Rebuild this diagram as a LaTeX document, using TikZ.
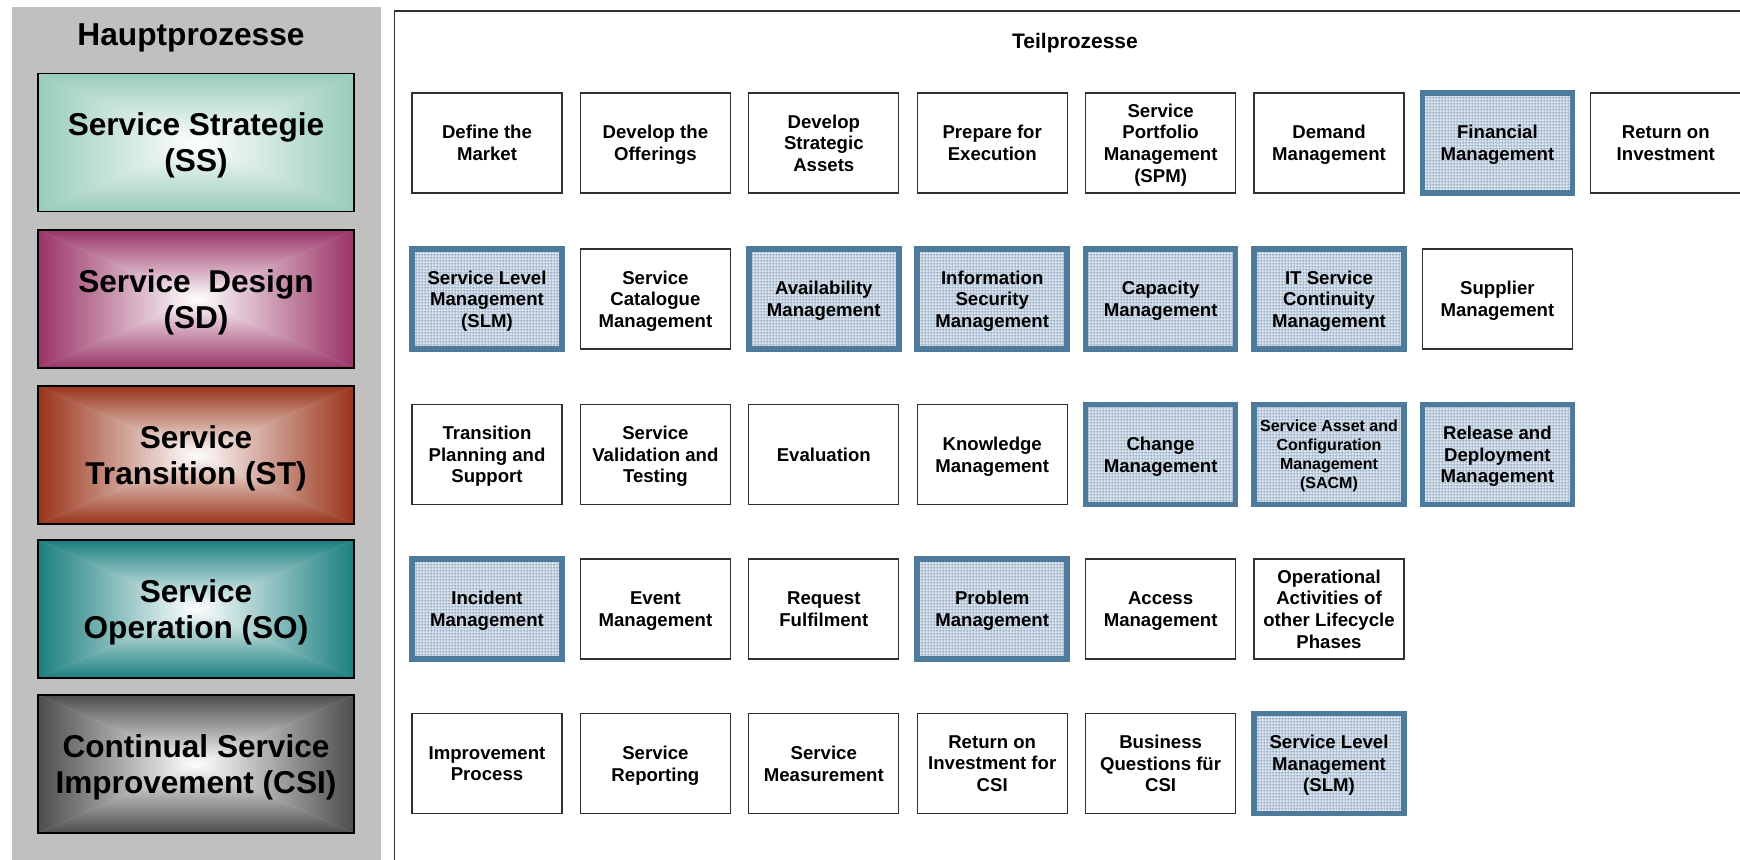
\documentclass[tikz,border=0pt]{standalone}
\usepackage{fontspec}
\setmainfont{Liberation Sans}
\usetikzlibrary{patterns.meta}
\definecolor{panelgray}{HTML}{C0C0C0}
\definecolor{boxline}{HTML}{303030}
\definecolor{hlborder}{HTML}{4E7A9B}
\definecolor{hlfill}{HTML}{DFE7F0}
\definecolor{hllines}{HTML}{9AB0C6}
\definecolor{ssc}{HTML}{99CCBB}
\definecolor{sdc}{HTML}{993366}
\definecolor{stc}{HTML}{993319}
\definecolor{soc}{HTML}{1A7F7F}
\definecolor{csic}{HTML}{4D4D4D}
\pgfdeclarepattern{
  name=hlgrid, type=uncolored,
  bottom left={\pgfpoint{0pt}{0pt}},
  top right={\pgfpoint{1.6pt}{1.6pt}},
  tile size={\pgfpoint{1.6pt}{1.6pt}},
  code={
    \pgfsetlinewidth{0.5pt}
    \pgfpathmoveto{\pgfpoint{0.8pt}{0pt}}\pgfpathlineto{\pgfpoint{0.8pt}{1.6pt}}
    \pgfpathmoveto{\pgfpoint{0pt}{0.8pt}}\pgfpathlineto{\pgfpoint{1.6pt}{0.8pt}}
    \pgfusepath{stroke}
  }}
\tikzset{
  sub/.style={draw=boxline, line width=0.6pt, fill=white, minimum width=75pt,
    minimum height=50pt, inner sep=0pt, align=center, text depth=-1pt,
    font=\fontsize{9.3}{10.85}\selectfont\bfseries},
  hl/.style={sub, draw=hlborder, line width=2.8pt, preaction={fill=hlfill},
    pattern=hlgrid, pattern color=hllines},
  small/.style={font=\fontsize{8}{9.5}\selectfont\bfseries, text depth=-0.7pt},
  phase/.style={draw=black, line width=0.6pt, minimum width=158pt, minimum height=69pt,
    inner sep=0pt, align=center, text depth=-0.7pt,
    font=\fontsize{15.8}{18}\selectfont\bfseries},
  frameline/.style={draw=boxline, line width=0.75pt},
  title/.style={anchor=base, inner sep=0pt, font=\bfseries},
}
\newcommand\phasebox[4]{%
  \shade[top color=#3, bottom color=white] (38,{#2-69}) -- (354,{#2-69}) -- (196,#2) -- cycle;
  \shade[top color=white, bottom color=#3] (38,{#2+69}) -- (354,{#2+69}) -- (196,#2) -- cycle;
  \shade[left color=#3, right color=white] (38,{#2-69}) -- (38,{#2+69}) -- (196,#2) -- cycle;
  \shade[left color=white, right color=#3] (354,{#2-69}) -- (354,{#2+69}) -- (196,#2) -- cycle;
  \node[phase] (#1) at (196,#2) {#4};
}
\begin{document}
\begin{tikzpicture}[x=0.5pt, y=-0.5pt]
\useasboundingbox (0,0) rectangle (1740,860);
\fill[white] (0,0) rectangle (1740,860);
\begin{scope}
\clip (0,0) rectangle (1740,860);
\fill[panelgray] (12,7.5) rectangle (381,880);
\draw[frameline] (394.5,11) rectangle (1800,900);

\node[title, font=\fontsize{15.85}{18}\selectfont\bfseries] (haupt) at (191,45.7) {Hauptprozesse};
\node[title, font=\fontsize{10.5}{12}\selectfont\bfseries] (teil) at (1075,48.8) {Teilprozesse};

\phasebox{SS}{142.5}{ssc}{Service Strategie\\(SS)}
\phasebox{SD}{299}{sdc}{Service\ \ Design\\(SD)}
\phasebox{ST}{455}{stc}{Service\\Transition (ST)}
\phasebox{SO}{609}{soc}{Service\\Operation (SO)}
\phasebox{CSI}{764}{csic}{Continual Service\\Improvement (CSI)}

% Row 1
\node[sub] (ss1) at (487,143) {Define the\\Market};
\node[sub] (ss2) at (655.4,143) {Develop the\\Offerings};
\node[sub] (ss3) at (823.8,143) {Develop\\Strategic\\Assets};
\node[sub] (ss4) at (992.2,143) {Prepare for\\Execution};
\node[sub] (ss5) at (1160.6,143) {Service\\Portfolio\\Management\\(SPM)};
\node[sub] (ss6) at (1329,143) {Demand\\Management};
\node[hl]  (ss7) at (1497.4,143) {Financial\\Management};
\node[sub] (ss8) at (1665.8,143) {Return on\\Investment};
% Row 2
\node[hl]  (sd1) at (487,299) {Service Level\\Management\\(SLM)};
\node[sub] (sd2) at (655.4,299) {Service\\Catalogue\\Management};
\node[hl]  (sd3) at (823.8,299) {Availability\\Management};
\node[hl]  (sd4) at (992.2,299) {Information\\Security\\Management};
\node[hl]  (sd5) at (1160.6,299) {Capacity\\Management};
\node[hl]  (sd6) at (1329,299) {IT Service\\Continuity\\Management};
\node[sub] (sd7) at (1497.4,299) {Supplier\\Management};
% Row 3
\node[sub] (st1) at (487,454.5) {Transition\\Planning and\\Support};
\node[sub] (st2) at (655.4,454.5) {Service\\Validation and\\Testing};
\node[sub] (st3) at (823.8,454.5) {Evaluation};
\node[sub] (st4) at (992.2,454.5) {Knowledge\\Management};
\node[hl]  (st5) at (1160.6,454.5) {Change\\Management};
\node[hl, small] (st6) at (1329,454.5) {Service Asset and\\Configuration\\Management\\(SACM)};
\node[hl]  (st7) at (1497.4,454.5) {Release and\\Deployment\\Management};
% Row 4
\node[hl]  (so1) at (487,609) {Incident\\Management};
\node[sub] (so2) at (655.4,609) {Event\\Management};
\node[sub] (so3) at (823.8,609) {Request\\Fulfilment};
\node[hl]  (so4) at (992.2,609) {Problem\\Management};
\node[sub] (so5) at (1160.6,609) {Access\\Management};
\node[sub] (so6) at (1329,609) {Operational\\Activities of\\other Lifecycle\\Phases};
% Row 5
\node[sub] (csi1) at (487,763.5) {Improvement\\Process};
\node[sub] (csi2) at (655.4,763.5) {Service\\Reporting};
\node[sub] (csi3) at (823.8,763.5) {Service\\Measurement};
\node[sub] (csi4) at (992.2,763.5) {Return on\\Investment for\\CSI};
\node[sub] (csi5) at (1160.6,763.5) {Business\\Questions für\\CSI};
\node[hl]  (csi6) at (1329,763.5) {Service Level\\Management\\(SLM)};
\end{scope}
\end{tikzpicture}
\end{document}
